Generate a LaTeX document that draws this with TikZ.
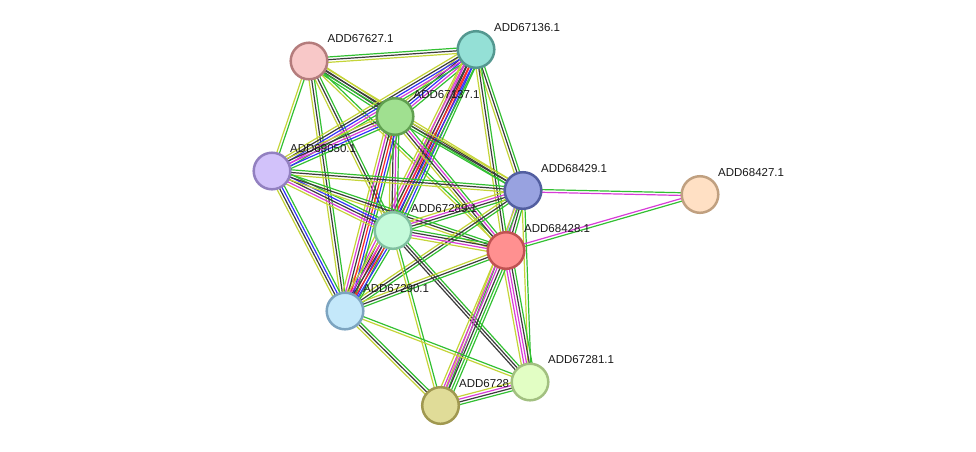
\documentclass[tikz,border=0pt]{standalone}
\usepackage{fontspec}
\setmainfont{Liberation Sans}
\usetikzlibrary{calc,backgrounds}
\definecolor{cTM}{RGB}{196,212,56}
\definecolor{cCE}{RGB}{60,60,60}
\definecolor{cNB}{RGB}{50,192,50}
\definecolor{cEX}{RGB}{215,60,215}
\definecolor{cCO}{RGB}{50,50,250}
\definecolor{cGF}{RGB}{250,40,40}
\definecolor{cHO}{RGB}{170,150,235}
\tikzset{
  prot/.style={circle,minimum size=36.6pt,inner sep=0pt,line width=2.5pt},
  plabel/.style={anchor=west,inner sep=0pt,font=\fontsize{11.5}{13}\selectfont,text=black!90},
  edgeline/.style={line width=1.2pt}
}
\newcommand\bund[4]{%
  \foreach \c [count=\i] in {#4} {%
    \pgfmathsetmacro\off{(\i-(#3+1)/2)*2.7}%
    \draw[edgeline,\c] ($(#1)!\off pt!90:(#2)$) -- ($(#2)!\off pt!-90:(#1)$);
  }%
}
\begin{document}
\begin{tikzpicture}[x=1pt,y=-1pt]
\useasboundingbox (0,0) rectangle (976,451);
% labels first (K label lies under node J)
\node[plabel] (lA) at (327.5,39) {ADD67627.1};
\node[plabel] (lB) at (494,27.5) {ADD67136.1};
\node[plabel] (lC) at (413.5,94.5) {ADD67137.1};
\node[plabel] (lD) at (290,149) {ADD69050.1};
\node[plabel] (lE) at (541,168.5) {ADD68429.1};
\node[plabel] (lF) at (718,172.5) {ADD68427.1};
\node[plabel] (lG) at (411,208.5) {ADD67289.1};
\node[plabel] (lH) at (524,228.5) {ADD68428.1};
\node[plabel] (lI) at (363,289) {ADD67290.1};
\node[plabel] (lJ) at (548,360) {ADD67281.1};
\node[plabel] (lK) at (459,383.5) {ADD6728};
% proteins
\node[prot,fill={rgb,255:red,248;green,200;blue,200},draw={rgb,255:red,180;green,124;blue,124}] (A) at (309,61) {};
\node[prot,fill={rgb,255:red,148;green,224;blue,214},draw={rgb,255:red,84;green,152;blue,144}] (B) at (476,49.5) {};
\node[prot,fill={rgb,255:red,160;green,224;blue,144},draw={rgb,255:red,96;green,160;blue,80}] (C) at (395,116.5) {};
\node[prot,fill={rgb,255:red,210;green,194;blue,250},draw={rgb,255:red,146;green,128;blue,192}] (D) at (272,171) {};
\node[prot,fill={rgb,255:red,152;green,162;blue,224},draw={rgb,255:red,82;green,94;blue,160}] (E) at (523,190.5) {};
\node[prot,fill={rgb,255:red,255;green,224;blue,196},draw={rgb,255:red,192;green,160;blue,128}] (F) at (700,194.5) {};
\node[prot,fill={rgb,255:red,196;green,250;blue,218},draw={rgb,255:red,128;green,192;blue,160}] (G) at (393,230.5) {};
\node[prot,fill={rgb,255:red,255;green,144;blue,144},draw={rgb,255:red,192;green,82;blue,82}] (H) at (506,250.5) {};
\node[prot,fill={rgb,255:red,196;green,232;blue,250},draw={rgb,255:red,124;green,164;blue,192}] (I) at (345,311) {};
\node[prot,fill={rgb,255:red,226;green,254;blue,196},draw={rgb,255:red,162;green,192;blue,128}] (J) at (530,382) {};
\node[prot,fill={rgb,255:red,224;green,220;blue,152},draw={rgb,255:red,160;green,152;blue,80}] (K) at (440.5,405.5) {};
% interactions
\begin{pgfonlayer}{background}
\bund{A}{B}{3}{cTM,cCE,cNB}
\bund{A}{C}{4}{cNB,cCE,cCE,cTM}
\bund{A}{D}{2}{cTM,cNB}
\bund{A}{E}{3}{cNB,cCE,cTM}
\bund{A}{G}{3}{cTM,cCE,cNB}
\bund{A}{H}{2}{cTM,cNB}
\bund{A}{I}{3}{cTM,cCE,cNB}
\bund{B}{C}{5}{cTM,cCE,cCO,cEX,cNB}
\bund{B}{D}{5}{cTM,cCE,cCO,cEX,cNB}
\bund{B}{E}{3}{cTM,cCE,cNB}
\bund{B}{G}{6}{cTM,cEX,cCE,cGF,cCO,cNB}
\bund{B}{H}{3}{cTM,cCE,cNB}
\bund{B}{I}{6}{cTM,cEX,cCE,cGF,cCO,cNB}
\bund{C}{D}{5}{cTM,cCE,cEX,cCO,cNB}
\bund{C}{E}{3}{cNB,cCE,cTM}
\bund{C}{G}{4}{cTM,cCE,cEX,cNB}
\bund{C}{H}{4}{cTM,cCE,cEX,cNB}
\bund{C}{I}{6}{cTM,cEX,cCE,cGF,cCO,cNB}
\bund{D}{E}{3}{cTM,cCE,cNB}
\bund{D}{G}{5}{cTM,cEX,cCE,cCO,cNB}
\bund{D}{H}{3}{cTM,cCE,cNB}
\bund{D}{I}{4}{cTM,cCE,cCO,cNB}
\bund{E}{F}{2}{cEX,cNB}
\bund{E}{G}{4}{cTM,cEX,cCE,cNB}
\bund{E}{H}{4}{cHO,cEX,cCE,cNB}
\bund{E}{I}{3}{cTM,cCE,cNB}
\bund{E}{J}{2}{cTM,cNB}
\bund{E}{K}{2}{cTM,cNB}
\bund{F}{H}{2}{cEX,cNB}
\bund{G}{H}{4}{cTM,cEX,cCE,cNB}
\bund{G}{I}{6}{cTM,cEX,cCE,cGF,cCO,cNB}
\bund{G}{J}{3}{cCE,cCE,cNB}
\bund{G}{K}{2}{cTM,cNB}
\bund{H}{I}{3}{cTM,cCE,cNB}
\bund{H}{J}{5}{cTM,cEX,cEX,cCE,cNB}
\bund{H}{K}{6}{cTM,cEX,cEX,cCE,cNB,cNB}
\bund{I}{J}{2}{cTM,cNB}
\bund{I}{K}{3}{cTM,cCE,cNB}
\bund{J}{K}{4}{cTM,cEX,cCE,cNB}
\end{pgfonlayer}
\end{tikzpicture}
\end{document}
